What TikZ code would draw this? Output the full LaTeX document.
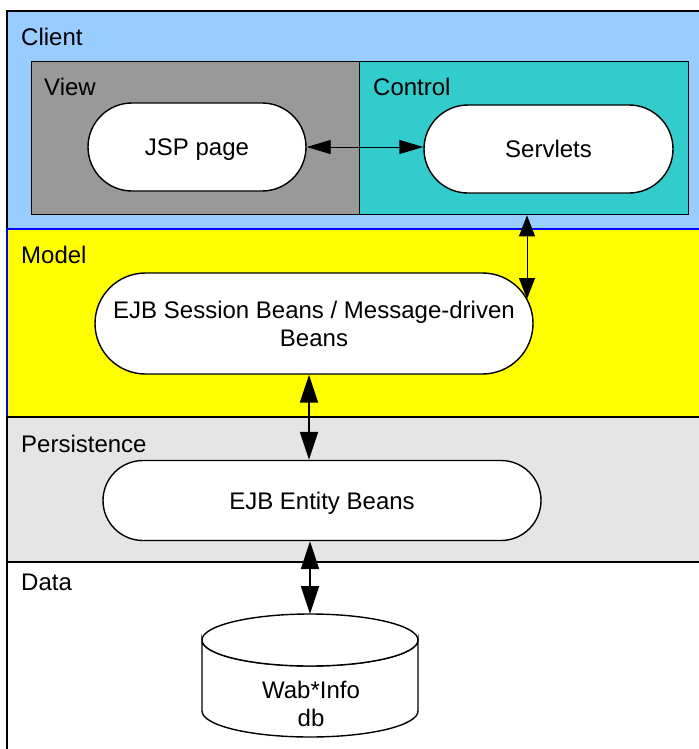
\documentclass[tikz,border=0pt]{standalone}
\usepackage{fontspec}
\setmainfont{Liberation Sans}
\usetikzlibrary{arrows.meta}
\definecolor{clientblue}{HTML}{99CCFF}
\definecolor{viewgray}{HTML}{999999}
\definecolor{ctrlteal}{HTML}{33CCCC}
\definecolor{persgray}{HTML}{E5E5E5}
\definecolor{modelline}{HTML}{0000FF}
\definecolor{modelfill}{HTML}{FFFF00}
\tikzset{
  band/.style={line width=1.6bp},
  tierlabel/.style={anchor=base west, inner sep=0pt},
  subbox/.style={draw, line width=1.3bp, inner sep=0pt, anchor=north west},
  pill/.style={draw, fill=white, line width=1.4bp, align=center, inner sep=0pt},
  oneline/.style={text height=17bp, text depth=0bp},
  thinlink/.style={line width=0.9bp, {Triangle[length=24bp,width=14bp]}-{Triangle[length=24bp,width=14bp]}},
  midlink/.style={line width=1bp, {Triangle[length=21bp,width=16bp]}-{Triangle[length=21bp,width=16bp]}},
  boldlink/.style={line width=1.8bp, {Triangle[length=28bp,width=18bp]}-{Triangle[length=28bp,width=18bp]}},
}
\begin{document}
\begin{tikzpicture}[x=1bp, y=-1bp, font=\fontsize{24bp}{28bp}\selectfont]
\useasboundingbox (0,0) rectangle (699,749);
\clip (0,0) rectangle (699,749);

% tier bands
\draw[band, fill=clientblue] (7,11) rectangle (720,229);
\draw[band, draw=modelline, fill=modelfill] (7,229) rectangle (720,417);
\draw[band, fill=persgray] (7,417) rectangle (720,562);
\draw[band, line width=2bp, fill=white] (7,562) rectangle (720,770);

\node[tierlabel] (lclient) at (21,46) {Client};
\node[tierlabel] (lmodel) at (21,263) {Model};
\node[tierlabel] (lpers) at (21,452) {Persistence};
\node[tierlabel] (ldata) at (21,590) {Data};

% view / control boxes inside the client tier
\node[subbox, fill=viewgray, minimum width=328bp, minimum height=153bp] (view) at (31,61) {};
\node[subbox, fill=ctrlteal, minimum width=329bp, minimum height=153bp] (ctrl) at (359,61) {};
\node[tierlabel] (lview) at (44,95) {View};
\node[tierlabel] (lctrl) at (373,95) {Control};

% components
\node[pill, oneline, minimum width=218bp, minimum height=88bp, rounded corners=44bp] (jsp) at (197,147) {JSP page};
\node[pill, oneline, minimum width=249bp, minimum height=88bp, rounded corners=44bp] (srv) at (548.5,149) {Servlets};
\node[pill, minimum width=438bp, minimum height=101bp, rounded corners=50.5bp] (sess) at (314,323.5) {EJB Session Beans / Message-driven\\Beans};
\node[pill, oneline, minimum width=438bp, minimum height=80bp, rounded corners=40bp] (ent) at (322,500.5) {EJB Entity Beans};

% database cylinder
\draw[line width=1.4bp, fill=white]
  (202,640) arc[start angle=180, end angle=360, x radius=108, y radius=-26]
  -- (418,711) arc[start angle=0, end angle=-180, x radius=108, y radius=-26] -- cycle;
\draw[line width=1.4bp, fill=white] (310,640) ellipse[x radius=108, y radius=26];
\node[align=center, inner sep=0pt] (db) at (311,704) {Wab*Info\\db};
\coordinate (dbtop) at (310,614);

% connectors
\coordinate (xctl) at (527,0);
\coordinate (sesstip) at (527,299);
\coordinate (xmid) at (309,0);
\coordinate (xlow) at (310,0);
\draw[thinlink] (jsp.east) -- (jsp.east -| srv.west);
\draw[midlink] (ctrl.south -| xctl) -- (sesstip);
\draw[boldlink] (sess.south -| xmid) -- (ent.north -| xmid);
\draw[boldlink] (ent.south -| xlow) -- (dbtop);
\end{tikzpicture}
\end{document}
